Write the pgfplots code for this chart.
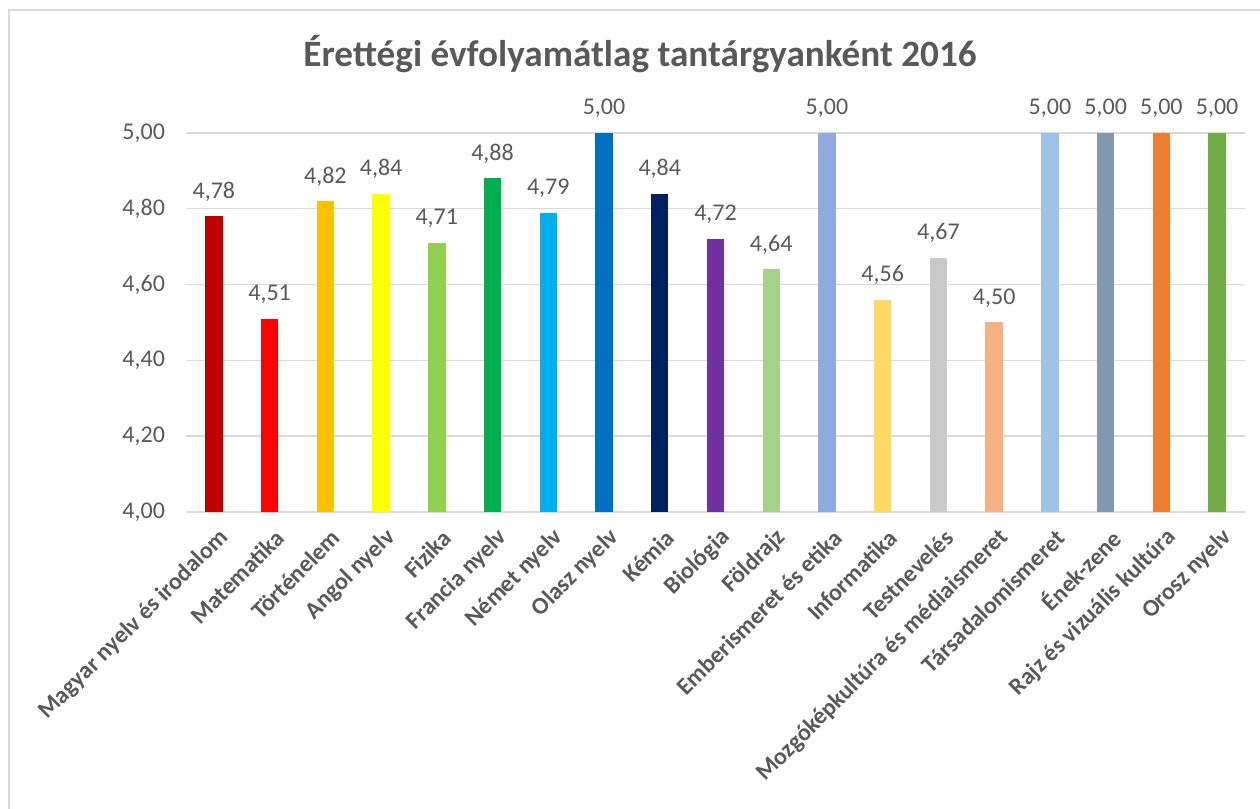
\documentclass[border=0pt]{standalone}
\usepackage{pgfplots}
\pgfplotsset{compat=1.18}
\usepackage{fontspec}
\setmainfont{Carlito}
\definecolor{txt}{HTML}{595959}
\definecolor{gridc}{HTML}{D9D9D9}
\definecolor{framec}{HTML}{D9D9D9}
\definecolor{c1}{HTML}{C00000}
\definecolor{c2}{HTML}{FF0000}
\definecolor{c3}{HTML}{FFC000}
\definecolor{c4}{HTML}{FFFF00}
\definecolor{c5}{HTML}{92D050}
\definecolor{c6}{HTML}{00B050}
\definecolor{c7}{HTML}{00B0F0}
\definecolor{c8}{HTML}{0070C0}
\definecolor{c9}{HTML}{002060}
\definecolor{c10}{HTML}{7030A0}
\definecolor{c11}{HTML}{A9D18E}
\definecolor{c12}{HTML}{8FAADC}
\definecolor{c13}{HTML}{FFD966}
\definecolor{c14}{HTML}{C9C9C9}
\definecolor{c15}{HTML}{F4B183}
\definecolor{c16}{HTML}{9DC3E6}
\definecolor{c17}{HTML}{8497B0}
\definecolor{c18}{HTML}{ED7D31}
\definecolor{c19}{HTML}{70AD47}
\begin{document}
\begin{tikzpicture}
\useasboundingbox (0,0) rectangle (630pt,404.5pt);
\draw[color=framec, line width=1.2pt] (4.5pt,-20pt) -- (4.5pt,399.5pt) -- (650pt,399.5pt);
\node[anchor=base, font=\fontsize{18.6}{22}\selectfont\bfseries, text=txt] at (320pt,371pt) {Érettégi évfolyamátlag tantárgyanként 2016};
\begin{axis}[
  at={(93pt,148.5pt)}, anchor=south west,
  scale only axis, width=529.5pt, height=189.5pt,
  xmin=-0.5, xmax=18.5, ymin=4, ymax=5,
  ytick={4,4.2,4.4,4.6,4.8,5},
  xtick={0,...,18},
  xticklabels={Magyar nyelv és irodalom, Matematika, Történelem, Angol nyelv, Fizika, Francia nyelv, Német nyelv, Olasz nyelv, Kémia, Biológia, Földrajz, Emberismeret és etika, Informatika, Testnevelés, Mozgóképkultúra és médiaismeret, Társadalomismeret, Ének-zene, Rajz és vizuális kultúra, Orosz nyelv},
  ymajorgrids, major grid style={color=gridc, line width=0.7pt},
  axis line style={draw=none},
  major tick length=0pt, tick style={draw=none},
  clip=false,
  /pgf/number format/assume math mode=true,
  yticklabel style={font=\fontsize{12}{14}\selectfont, text=txt, xshift=-7pt,
    /pgf/number format/.cd, fixed, fixed zerofill, precision=2, use comma},
  xticklabel style={font=\fontsize{12}{14}\selectfont\bfseries, text=txt, rotate=45, anchor=east, yshift=-11.5pt, xshift=-0.5pt},
  nodes near coords,
  every node near coord/.append style={font=\fontsize{12}{14}\selectfont, text=txt, anchor=south, yshift=4pt,
    /pgf/number format/.cd, fixed, fixed zerofill, precision=2, use comma, assume math mode=true},
  b/.style={ybar, bar width=8.7pt, bar shift=0pt, draw=none, fill=#1},
]
\addplot[b=c1] coordinates {(0,4.78)};
\addplot[b=c2] coordinates {(1,4.51)};
\addplot[b=c3] coordinates {(2,4.82)};
\addplot[b=c4] coordinates {(3,4.84)};
\addplot[b=c5] coordinates {(4,4.71)};
\addplot[b=c6] coordinates {(5,4.88)};
\addplot[b=c7] coordinates {(6,4.79)};
\addplot[b=c8] coordinates {(7,5.00)};
\addplot[b=c9] coordinates {(8,4.84)};
\addplot[b=c10] coordinates {(9,4.72)};
\addplot[b=c11] coordinates {(10,4.64)};
\addplot[b=c12] coordinates {(11,5.00)};
\addplot[b=c13] coordinates {(12,4.56)};
\addplot[b=c14] coordinates {(13,4.67)};
\addplot[b=c15] coordinates {(14,4.50)};
\addplot[b=c16] coordinates {(15,5.00)};
\addplot[b=c17] coordinates {(16,5.00)};
\addplot[b=c18] coordinates {(17,5.00)};
\addplot[b=c19] coordinates {(18,5.00)};
\end{axis}
\end{tikzpicture}
\end{document}
